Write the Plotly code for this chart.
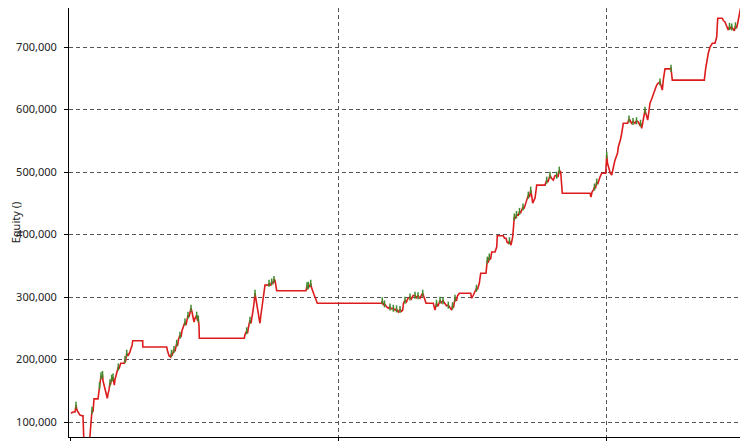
import plotly.graph_objects as go

# Bar / trade index along the x axis, and the equity value at each bar
bar_index = [
    2, 4, 6, 7, 8, 9, 11, 13, 14, 15, 17, 20,
    22, 22.5, 23, 24, 25, 29, 30, 30.5, 31, 32,
    33, 33.5, 34, 35, 36, 37, 38.3, 39, 40, 41, 41.5, 42.7, 43.5, 44, 45.3,
    46, 47, 48, 49.3, 50, 51.7, 55.3, 56, 56.5, 57.7, 59, 61, 62, 63, 63.7,
    73.7, 73.8, 97.7, 98.5, 99, 100, 101.7, 102.5, 103, 104, 105, 106, 107.7, 108.5, 109.5,
    111, 112, 113, 114, 115, 116, 117, 118, 119, 120, 121, 122, 123, 124, 125,
    126, 127.7, 128.5, 129.3, 130, 130.3,
    175.3, 176, 177.7, 178.5, 179.5, 181, 182, 183, 184, 185, 186, 187, 188, 189.3, 190,
    191, 191.8, 192.7, 193.5, 194.3, 196, 199.3, 200, 201, 202.7, 204, 205, 206, 207, 207.7,
    237, 238, 238.7, 239.3, 240.5, 241.7, 242.5, 243.7, 245, 246, 247, 248.3,
    312.7, 313.3, 314.3, 315.5, 317.7, 319.3, 321, 322.5, 324.3, 326, 327.5, 329.3, 331, 332.5, 333.7,
    334.5, 336, 337.5, 339, 341, 342.5, 344, 346, 347.5, 349, 351, 352.5, 353.7, 355, 357,
    364.3, 365, 366, 367.5, 369, 371, 372.5, 374, 376, 377.5, 379.3, 381, 382.7, 383.5, 384.5,
    386, 387.5, 388.5, 390.3, 401.7, 402.7, 404, 405, 406, 407.5, 408.5, 410.3, 411.7, 417,
    418.3, 419.3, 420.3, 421.5, 422.7, 426, 427.7, 428.3, 434.3, 435.5, 437, 438, 439.3, 440.5, 442,
    443.7, 445.3, 446.5, 447.5, 449.3, 450.5, 451.5, 452.7, 454, 455, 456, 457.5, 459.3, 460.5, 461.7,
    462.7, 463.7, 465, 466, 467, 467.7, 476, 477.7, 479, 481, 482.5, 484.3, 486, 487.7, 489,
    490.3, 491.7, 492.7, 493.3,
    521, 522, 523, 524.3, 525.5, 526.5, 527.7, 529, 531, 532.7, 536.7, 537.7, 538.5, 539.3, 540,
    541.3, 542.7, 543.7, 544.7, 546, 547.5, 548.5, 549.3, 550.5, 551.5, 552.7, 553.5, 554.3, 558.7, 560,
    561, 562.5, 564, 566, 567.5, 569.3, 570.5, 571.5, 572.7, 574, 575, 576, 577, 578.7, 580,
    581, 582.5, 584.3, 585.5, 586.5, 587.7, 589, 591, 592, 593.3, 594.5, 596, 601, 602, 603.3,
    635.3, 636.7, 637.5, 638.3, 639.3, 641, 643.3, 646, 647.7, 648.7, 653.3, 654.5, 656, 657.5, 659.3,
    660.5, 661.5, 662.7, 664, 665.3, 666.5, 667.5, 668.7, 669.5, 670, 672,
]

equity = [
    114000, 116000, 116000, 127000, 119000, 116000, 111000, 110000, 110000, 63000, 55000, 58000,
    106000, 114000, 119000, 116000, 137000, 137000, 150000, 158000, 155000, 174000,
    170000, 176000, 166000, 160000, 151000, 146000, 138000, 145000, 151000, 163000, 160000, 170000, 166000, 172000, 159000,
    168000, 174000, 180000, 188000, 185000, 194000, 194000, 200000, 196000, 210000, 206000, 212000, 218000, 222000, 230000,
    230000, 220000, 220000, 214000, 212000, 206000, 204000, 210000, 206000, 212000, 216000, 213000, 226000, 222000, 232000,
    239000, 236000, 246000, 250000, 256000, 260000, 255000, 266000, 271000, 268000, 278000, 282000, 276000, 268000, 260000,
    266000, 271000, 262000, 265000, 254000, 234000,
    234000, 240000, 246000, 242000, 252000, 263000, 258000, 266000, 278000, 290000, 306000, 296000, 282000, 274000, 266000,
    258000, 270000, 279000, 290000, 300000, 319000, 319000, 322000, 318000, 324000, 322000, 328000, 327000, 316000, 310000,
    310000, 318000, 312000, 319000, 316000, 322000, 315000, 308000, 304000, 300000, 294000, 290000,
    290000, 294000, 287000, 289000, 284000, 282000, 284000, 281000, 282000, 279000, 281000, 276000, 280000, 277000, 279000,
    290000, 295000, 292000, 298000, 300000, 297000, 302000, 303000, 299000, 302000, 298000, 303000, 306000, 300000, 290000,
    290000, 286000, 279000, 290000, 285000, 295000, 291000, 294000, 290000, 286000, 287000, 282000, 279000, 286000, 283000,
    298000, 294000, 302000, 306000, 306000, 298000, 302000, 306000, 310000, 314000, 312000, 322000, 338000, 338000,
    359000, 355000, 364000, 360000, 372000, 372000, 380000, 398000, 398000, 394000, 394000, 388000, 386000, 390000, 383000,
    396000, 428000, 425000, 432000, 431000, 437000, 434000, 439000, 444000, 441000, 447000, 452000, 463000, 460000, 471000,
    462000, 450000, 455000, 458000, 470000, 479000, 479000, 487000, 484000, 495000, 490000, 487000, 494000, 495000, 492000,
    503000, 500000, 482000, 466000,
    466000, 460000, 468000, 471000, 476000, 474000, 484000, 482000, 492000, 498000, 498000, 527000, 514000, 508000, 503000,
    498000, 495000, 505000, 510000, 519000, 526000, 530000, 540000, 546000, 552000, 562000, 568000, 578000, 578000, 585000,
    583000, 578000, 581000, 578000, 582000, 580000, 576000, 578000, 570000, 585000, 590000, 599000, 592000, 583000, 598000,
    610000, 616000, 626000, 630000, 634000, 639000, 642000, 644000, 636000, 631000, 650000, 665000, 665000, 666000, 647000,
    647000, 666000, 674000, 684000, 690000, 700000, 706000, 706000, 716000, 746000, 746000, 742000, 740000, 734000, 727000,
    733000, 729000, 732000, 728000, 726000, 734000, 730000, 738000, 745000, 754000, 766000,
]

y_ticks = [100000, 200000, 300000, 400000, 500000, 600000, 700000]
y_tick_labels = ["100,000", "200,000", "300,000", "400,000", "500,000", "600,000", "700,000"]

# local highs (rising bar tops) shown in green
peak_x, peak_y = [], []
for i in range(1, len(equity) - 1):
    if equity[i] > equity[i - 1] and equity[i] > equity[i + 1]:
        peak_x.append(bar_index[i])
        peak_y.append(equity[i])

fig = go.Figure()
fig.add_trace(go.Scatter(
    x=bar_index, y=equity, mode="lines",
    line=dict(color="#dc1c1c", width=1.6),
    showlegend=False, hoverinfo="skip", cliponaxis=False,
))
fig.add_trace(go.Scatter(
    x=peak_x, y=peak_y, mode="markers",
    marker=dict(symbol="line-ns", size=5, line=dict(color="#3c8c2c", width=1.5)),
    showlegend=False, hoverinfo="skip",
))

# the page body adds an 8px offset, so the figure is 8px smaller than the window
fig.update_layout(
    width=740, height=433,
    margin=dict(l=61, r=0, t=0, b=4),
    paper_bgcolor="white", plot_bgcolor="white",
    font=dict(family="Noto Sans", size=11, color="#222222"),
    showlegend=False,
)
fig.update_xaxes(
    range=[0, 679], tick0=1, dtick=268, automargin=False,
    showticklabels=False, ticks="outside", ticklen=4, tickcolor="black",
    showline=True, linecolor="black", linewidth=1,
    showgrid=True, gridcolor="#555555", griddash="4px,3px", gridwidth=1,
    zeroline=False,
)
fig.update_yaxes(
    range=[76000, 762400], tickvals=y_ticks, ticktext=y_tick_labels, automargin=False,
    ticks="outside", ticklen=4, tickcolor="black", ticklabelstandoff=5,
    showline=True, linecolor="black", linewidth=1,
    showgrid=True, gridcolor="#555555", griddash="4px,3px", gridwidth=1,
    zeroline=False,
    title=dict(text="Equity ()", standoff=11, font=dict(size=11)),
)

fig.write_html("out.html")
